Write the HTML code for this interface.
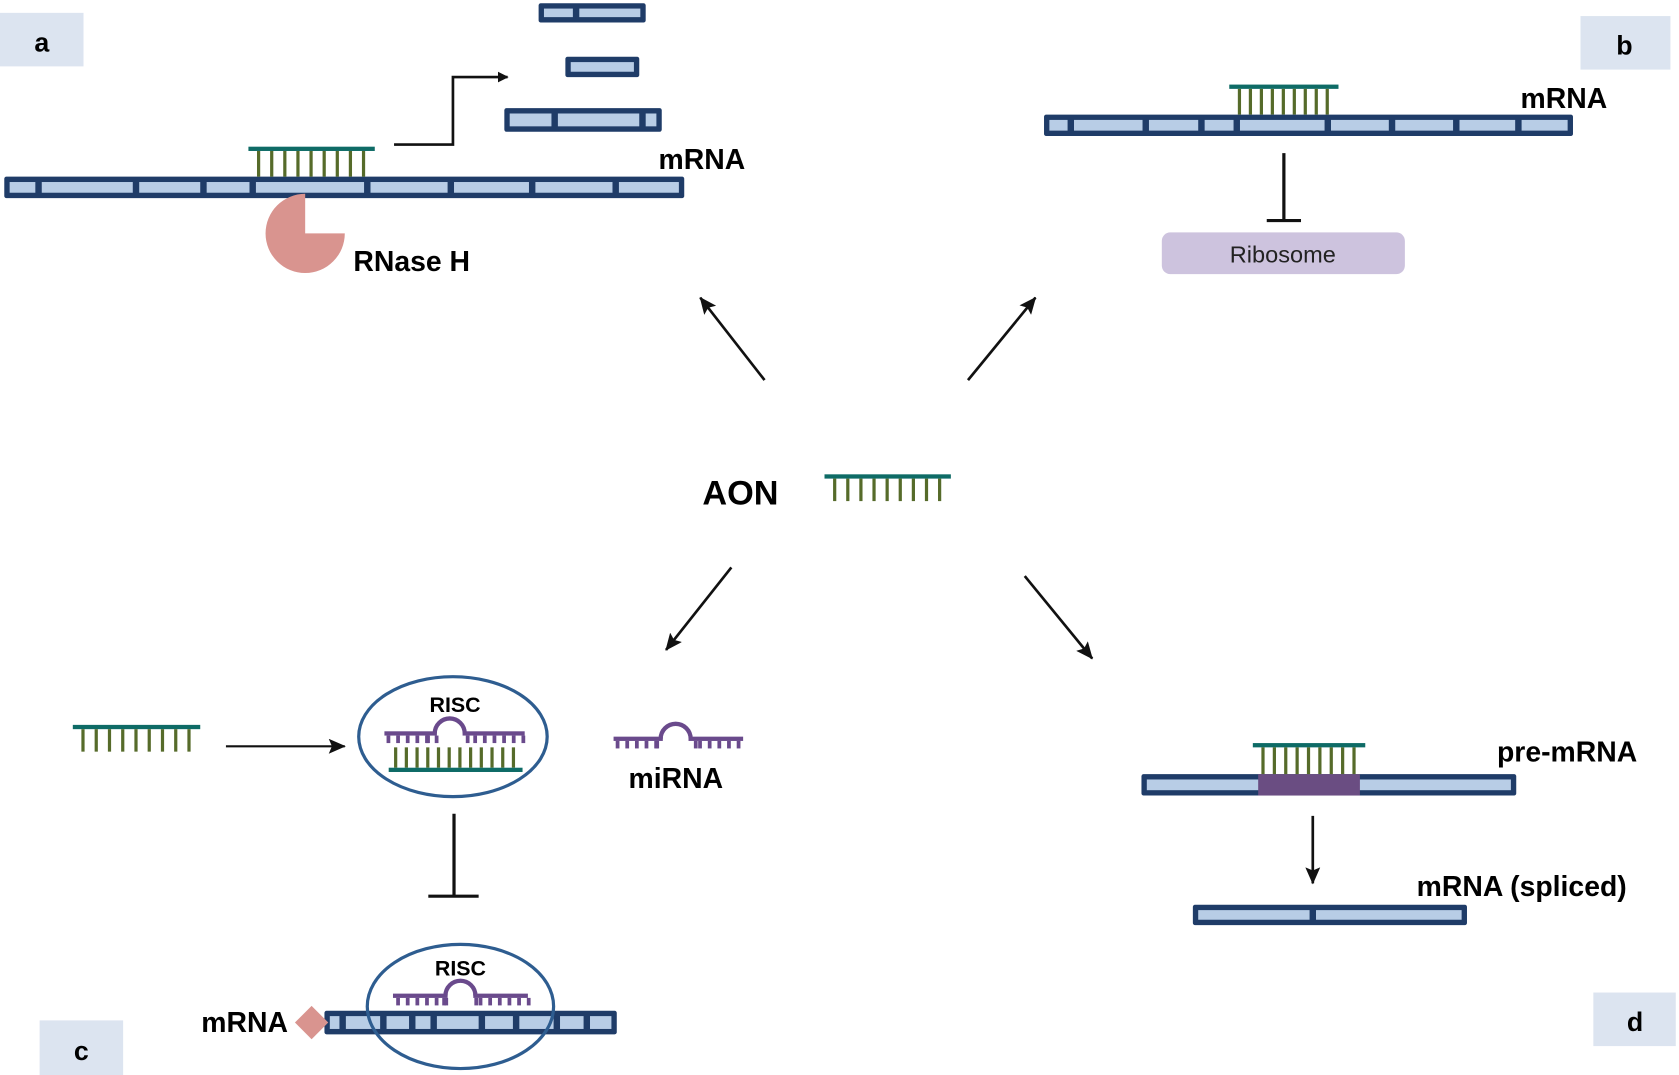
<!DOCTYPE html>
<html><head><meta charset="utf-8">
<style>
html,body{margin:0;padding:0;background:#fff;}
svg{display:block;}
text{font-family:"Liberation Sans",sans-serif;}
</style></head>
<body>
<svg id="s" width="1679" height="1075" viewBox="0 0 1568 1004" preserveAspectRatio="none" xmlns="http://www.w3.org/2000/svg">
<defs>
<marker id="ah" markerWidth="10" markerHeight="10" refX="9" refY="5" orient="auto" markerUnits="userSpaceOnUse">
<path d="M0,0 L10,5 L0,10 z" fill="#111"/>
</marker>
<marker id="ah2" markerWidth="16" markerHeight="14" refX="15" refY="7" orient="auto" markerUnits="userSpaceOnUse">
<path d="M0,0 L16,7 L0,14 L3,7 z" fill="#111"/>
</marker>
</defs>
<rect x="0" y="12" width="78" height="50" fill="#dce4f0"/>
<text x="39" y="48" font-size="25" font-weight="bold" text-anchor="middle">a</text>
<rect x="1476" y="15" width="84" height="50" fill="#dce4f0"/>
<text x="1517" y="51" font-size="25" font-weight="bold" text-anchor="middle">b</text>
<rect x="37" y="953" width="78" height="51" fill="#dce4f0"/>
<text x="76" y="990" font-size="25" font-weight="bold" text-anchor="middle">c</text>
<rect x="1488" y="927" width="77" height="50" fill="#dce4f0"/>
<text x="1527" y="963" font-size="25" font-weight="bold" text-anchor="middle">d</text>

<g id="dyn"></g>

<path d="M368,135 H423 V72 H474" fill="none" stroke="#111" stroke-width="2.5" marker-end="url(#ah)"/>
<text x="615" y="158" font-size="26.5" font-weight="bold">mRNA</text>
<text x="330" y="253" font-size="26.5" font-weight="bold">RNase H</text>

<text x="1420" y="101" font-size="26.5" font-weight="bold">mRNA</text>
<line x1="1199" y1="143" x2="1199" y2="206" stroke="#111" stroke-width="3"/>
<line x1="1183" y1="206" x2="1215" y2="206" stroke="#111" stroke-width="3"/>
<rect x="1085" y="217" width="227" height="39" rx="8" fill="#cdc3de"/>
<text x="1198" y="245" font-size="22" text-anchor="middle" fill="#222">Ribosome</text>

<text x="656" y="471" font-size="32" font-weight="bold">AON</text>
<line x1="714" y1="355" x2="654" y2="278" stroke="#111" stroke-width="2.5" marker-end="url(#ah2)"/>
<line x1="904" y1="355" x2="967" y2="278" stroke="#111" stroke-width="2.5" marker-end="url(#ah2)"/>
<line x1="683" y1="530" x2="622" y2="607" stroke="#111" stroke-width="2.5" marker-end="url(#ah2)"/>
<line x1="957" y1="538" x2="1020" y2="615" stroke="#111" stroke-width="2.5" marker-end="url(#ah2)"/>

<line x1="211" y1="697" x2="322" y2="697" stroke="#111" stroke-width="2" marker-end="url(#ah2)"/>
<ellipse cx="423" cy="688" rx="88" ry="56" fill="none" stroke="#2e5d90" stroke-width="3"/>
<text x="425" y="665" font-size="20" font-weight="bold" text-anchor="middle">RISC</text>
<text x="587" y="736" font-size="26.5" font-weight="bold">miRNA</text>
<line x1="424" y1="760" x2="424" y2="837" stroke="#111" stroke-width="3"/>
<line x1="400" y1="837" x2="447" y2="837" stroke="#111" stroke-width="3"/>
<text x="430" y="911" font-size="20" font-weight="bold" text-anchor="middle">RISC</text>
<text x="188" y="964" font-size="26.5" font-weight="bold">mRNA</text>
<rect x="280" y="944" width="22" height="22" fill="#d9948f" transform="rotate(45 291 955)"/>

<text x="1398" y="711" font-size="26.5" font-weight="bold">pre-mRNA</text>
<line x1="1226" y1="762" x2="1226" y2="825" stroke="#111" stroke-width="2.5" marker-end="url(#ah2)"/>
<text x="1323" y="837" font-size="26.5" font-weight="bold">mRNA (spliced)</text>
</svg>
<script>
var NS="http://www.w3.org/2000/svg",g=document.getElementById("dyn");
function el(t,a,p){var e=document.createElementNS(NS,t);for(var k in a)e.setAttribute(k,a[k]);(p||g).appendChild(e);return e;}
function bar(x1,x2,y,h,divs){
 el("rect",{x:x1,y:y,width:x2-x1,height:h,rx:2,fill:"#1f3c68"});
 var pts=[x1].concat(divs).concat([x2]);
 for(var i=0;i<pts.length-1;i++){
  var a=pts[i]+(i==0?5:3),b=pts[i+1]-(i==pts.length-2?5:3);
  if(b>a)el("rect",{x:a,y:y+5,width:b-a,height:h-10,fill:"#b8cde6"});
 }
}
function oligo(x1,x2,yt,yb,n){
 el("rect",{x:x1,y:yt,width:x2-x1,height:4,fill:"#0e6b66"});
 var s=(x2-x1-20)/(n-1);
 for(var i=0;i<n;i++)el("rect",{x:x1+8+i*s,y:yt+4,width:3,height:yb-yt-4,fill:"#566b2a"});
}
function mirna(x1,x2,y,cx,r,ticks){
 var c="#6a4a8c";
 el("rect",{x:x1,y:y,width:cx-r-x1+2,height:4,fill:c});
 el("rect",{x:cx+r-2,y:y,width:x2-cx-r+2,height:4,fill:c});
 el("path",{d:"M"+(cx-r)+","+(y+2)+" A"+r+","+r+" 0 0,1 "+(cx+r)+","+(y+2),fill:"none",stroke:c,"stroke-width":4});
 ticks.forEach(function(t){el("rect",{x:t,y:y+4,width:3.5,height:7,fill:c});});
}
bar(4,639,165,20,[36,127,190,236,343,421,497,575]);
oligo(232,350,137,165,9);
bar(503,603,3,18,[538]);
bar(528,597,53,19,[]);
bar(471,618,101,22,[518,600]);
bar(975,1469,107,20,[1000,1070,1122,1155,1240,1300,1360,1418]);
oligo(1148,1250,79,107,9);
oligo(770,888,443,468,9);
oligo(68,187,677,702,9);
var t1=[];for(var i=0;i<6;i++)t1.push(361+i*9);var t2=[];for(var i=0;i<6;i++)t2.push(442+i*9);
mirna(359,490,683,420,14,t1.concat(t2).concat([398,435]));
for(var i=0;i<12;i++)el("rect",{x:368+i*10,y:698,width:3,height:19,fill:"#566b2a"});
el("rect",{x:363,y:717,width:125,height:4,fill:"#0e6b66"});
var t3=[];for(var i=0;i<5;i++)t3.push(575+i*9);var t4=[];for(var i=0;i<5;i++)t4.push(652+i*9);
mirna(573,694,688,631,14,t3.concat(t4).concat([612,648]));
bar(303,576,944,22,[320,358,385,405,450,482,520,548]);
var t5=[];for(var i=0;i<6;i++)t5.push(370+i*9);var t6=[];for(var i=0;i<6;i++)t6.push(447+i*9);
mirna(367,493,928,430,14,t5.concat(t6).concat([413,443]));
var s=document.getElementById("s");
el("ellipse",{cx:430,cy:940,rx:87,ry:58,fill:"none",stroke:"#2e5d90","stroke-width":3},s);
el("path",{d:"M285,218 L285,181 A37,37 0 1,0 322,218 Z",fill:"#d9948f"},s);
bar(1066,1416,723,20,[]);
el("rect",{x:1175,y:723,width:95,height:20,fill:"#6a4d82"});
oligo(1170,1275,694,723,9);
bar(1114,1370,845,19,[1226]);
</script>
</body></html>
